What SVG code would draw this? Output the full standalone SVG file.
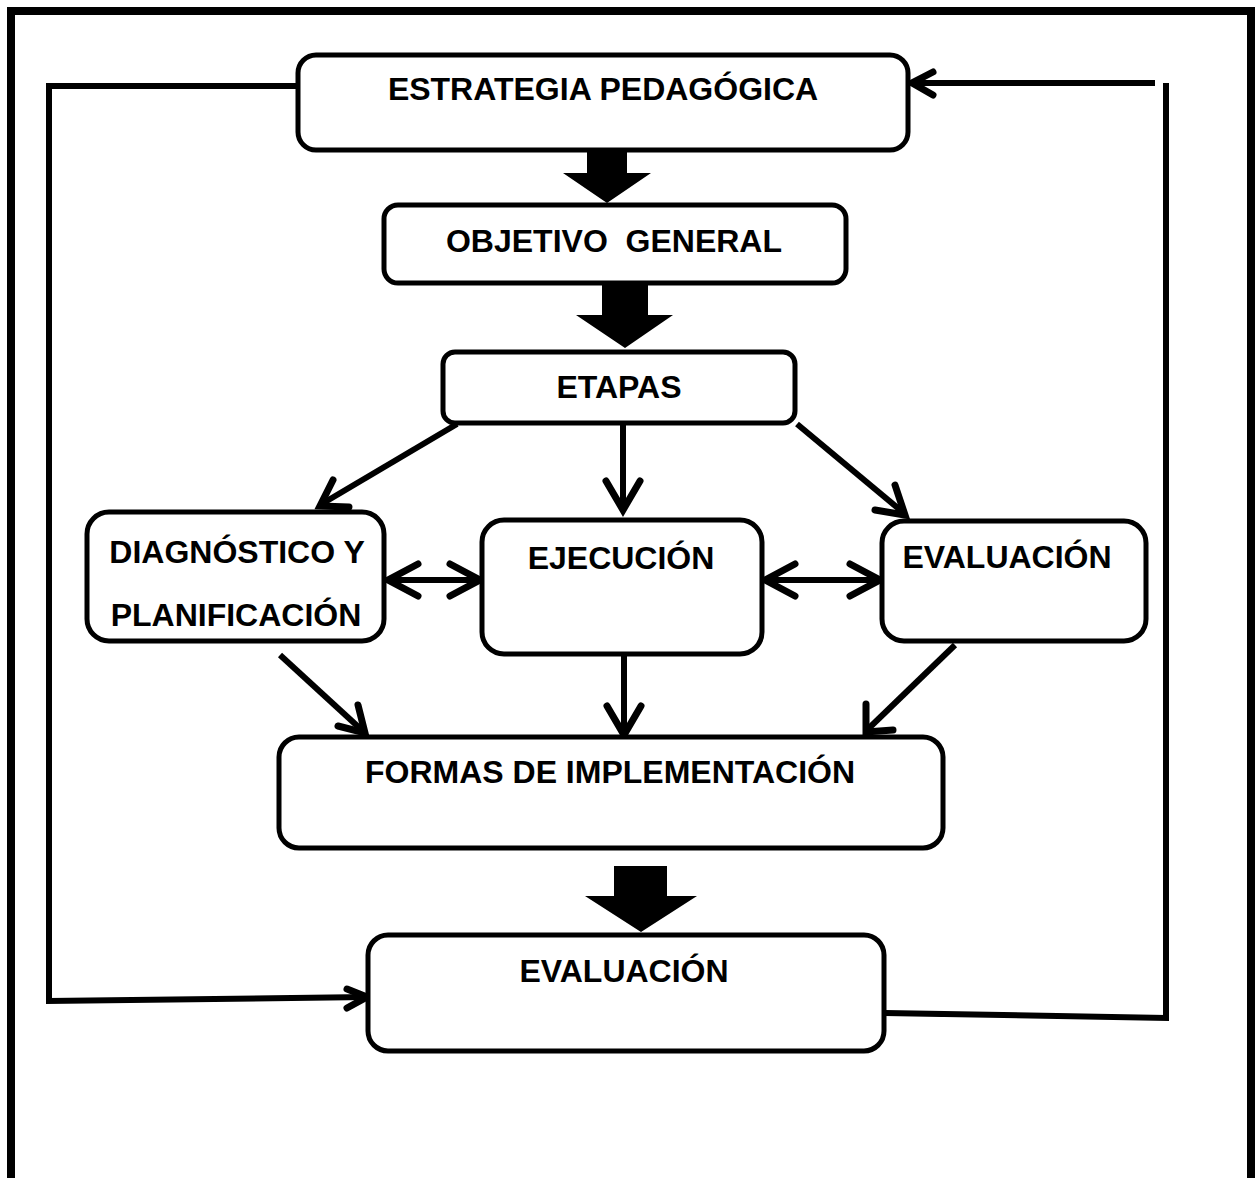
<svg xmlns="http://www.w3.org/2000/svg" width="1257" height="1178" viewBox="0 0 1257 1178">
<style>
.box{fill:#fff;stroke:#000;stroke-width:5}
.t{font-family:"Liberation Sans",Arial,sans-serif;font-weight:bold;font-size:32px;fill:#000;text-anchor:middle}
.c{fill:none;stroke:#000;stroke-width:6;stroke-linecap:butt}
.ah{fill:none;stroke:#000;stroke-width:7;stroke-linecap:round;stroke-linejoin:miter}
.fat{fill:#000;stroke:none}
</style>
<rect x="11" y="11" width="1240" height="1175" fill="none" stroke="#000" stroke-width="8"/>
<g id="connectors">
  <polyline class="c" points="297,86 49,86 49,1001 368,997"/>
  <polyline class="ah" points="347,989 367,997 347,1008"/>
  <polyline class="c" points="885,1013 1166,1018 1166,83"/>
  <line class="c" x1="1155" y1="83" x2="912" y2="83"/>
  <polyline class="ah" points="933,72 912,83 933,95"/>
  <polygon class="fat" points="587,150 627,150 627,173 651,173 607,203 563,173 587,173"/>
  <polygon class="fat" points="602,283 648,283 648,315 673,315 625,348 576,315 602,315"/>
  <polygon class="fat" points="614,866 667,866 667,896 697,896 641,932 585,896 614,896"/>
  <line class="c" x1="457" y1="424" x2="320" y2="505"/>
  <polyline class="ah" points="333,480 320,506 349,507"/>
  <line class="c" x1="623" y1="424" x2="623" y2="508"/>
  <polyline class="ah" points="606,481 623,510 640,481"/>
  <line class="c" x1="797" y1="424" x2="905" y2="514"/>
  <polyline class="ah" points="895,485 905,515 875,510"/>
  <line class="c" x1="280" y1="655" x2="365" y2="733"/>
  <polyline class="ah" points="338,726 365,733 358,705"/>
  <line class="c" x1="624" y1="654" x2="624" y2="733"/>
  <polyline class="ah" points="607,706 624,735 641,706"/>
  <line class="c" x1="955" y1="645" x2="866" y2="731"/>
  <polyline class="ah" points="866,704 866,732 893,730"/>
  <line class="c" x1="388" y1="580" x2="478" y2="580"/>
  <polyline class="ah" points="418,564 388,580 418,596"/>
  <polyline class="ah" points="450,564 480,580 450,596"/>
  <line class="c" x1="766" y1="580" x2="879" y2="580"/>
  <polyline class="ah" points="795,564 765,580 795,596"/>
  <polyline class="ah" points="850,564 880,580 850,596"/>
</g>
<g id="n1"><rect class="box" x="298" y="55" width="610" height="95" rx="18"/><text class="t" x="603" y="100">ESTRATEGIA PEDAGÓGICA</text></g>
<g id="n2"><rect class="box" x="384" y="205" width="462" height="78" rx="14"/><text class="t" x="614" y="252" xml:space="preserve">OBJETIVO  GENERAL</text></g>
<g id="n3"><rect class="box" x="443" y="352" width="352" height="71" rx="12"/><text class="t" x="619" y="398">ETAPAS</text></g>
<g id="n4"><rect class="box" x="87" y="512" width="297" height="129" rx="22"/><text class="t" x="237" y="563">DIAGNÓSTICO Y</text><text class="t" x="236" y="626">PLANIFICACIÓN</text></g>
<g id="n5"><rect class="box" x="482" y="520" width="280" height="134" rx="22"/><text class="t" x="621" y="569">EJECUCIÓN</text></g>
<g id="n6"><rect class="box" x="882" y="521" width="264" height="120" rx="22"/><text class="t" x="1007" y="568">EVALUACIÓN</text></g>
<g id="n7"><rect class="box" x="279" y="737" width="664" height="111" rx="20"/><text class="t" x="610" y="783">FORMAS DE IMPLEMENTACIÓN</text></g>
<g id="n8"><rect class="box" x="368" y="935" width="516" height="116" rx="20"/><text class="t" x="624" y="982">EVALUACIÓN</text></g>
</svg>
